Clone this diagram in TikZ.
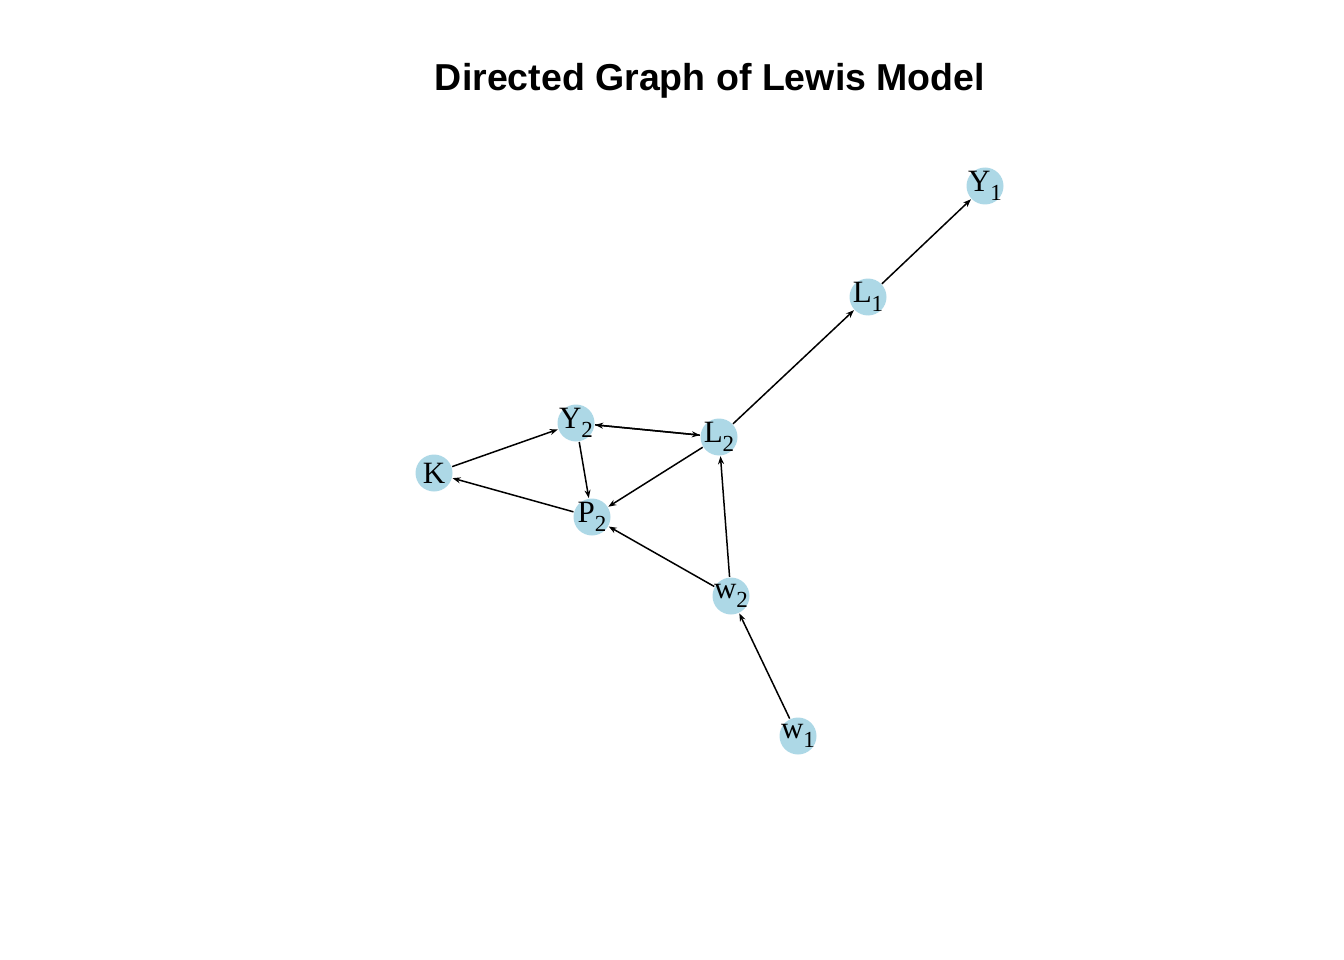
\documentclass[tikz,border=0pt]{standalone}
\usepackage{fontspec}
\setmainfont{Liberation Serif}
\newfontfamily\titlefont{Liberation Sans}
\usetikzlibrary{arrows.meta}
\definecolor{lightblue}{HTML}{ADD8E6}
\newcommand{\sub}[2]{#1\raisebox{-0.3em}{\fontsize{23}{23}\selectfont #2}}

\begin{document}
\begin{tikzpicture}[x=1pt,y=-1pt,>={Stealth[length=8pt,width=6pt]},
                    line width=1.5pt,main node/.style={circle,fill=lightblue,minimum size=37pt,inner sep=-6pt,font=\fontsize{31}{31}\selectfont}]
       \useasboundingbox (0,0) rectangle (1344,960);

       \node[font=\titlefont\bfseries\fontsize{37.5}{37.5}\selectfont] (title) at (710,81) {Directed Graph of Lewis Model};

       \node[main node] (Y1) at (985,186) {\sub{Y}{1}};
       \node[main node] (L1) at (868,297) {\sub{L}{1}};
       \node[main node] (L2) at (719,437) {\sub{L}{2}};
       \node[main node] (Y2) at (576,423) {\sub{Y}{2}};
       \node[main node] (K) at (434,473) {K};
       \node[main node] (P2) at (592,517) {\sub{P}{2}};
       \node[main node] (w2) at (731,596) {\sub{w}{2}};
       \node[main node] (w1) at (798,736) {\sub{w}{1}};

       \path[->]
         (L1) edge (Y1)
         (L2) edge (L1)
              edge (Y2)
              edge (P2)
         (Y2) edge (L2)
              edge (P2)
         (K)  edge (Y2)
         (P2) edge (K)
         (w2) edge (P2)
              edge (L2)
         (w1) edge (w2);

    \end{tikzpicture}
\end{document}
